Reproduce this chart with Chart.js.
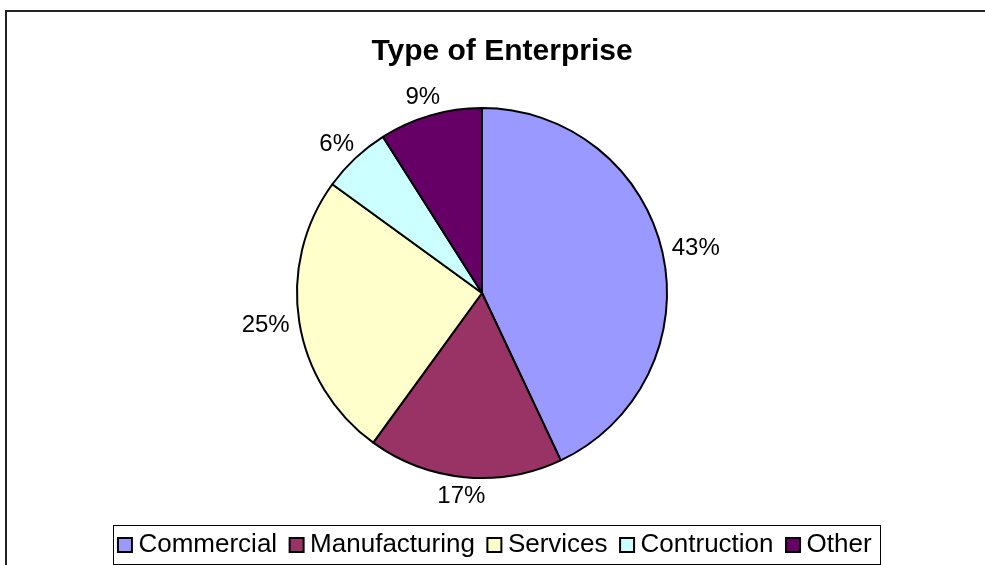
<!DOCTYPE html>
<html>
<head>
<meta charset="utf-8">
<script src="https://cdn.jsdelivr.net/npm/chart.js@4.4.1/dist/chart.umd.min.js"></script>
<style>
  html, body { margin: 0; padding: 0; background: #fff; }
</style>
</head>
<body>
<canvas id="enterpriseChart" width="985" height="565"></canvas>
<script>
const chartTitle = "Type of Enterprise";
const categories = ["Commercial", "Manufacturing", "Services", "Contruction", "Other"];
const shares = [43, 17, 25, 6, 9];
const sliceColors = ["#9999FF", "#993366", "#FFFFCC", "#CCFFFF", "#660066"];

const FONT = "'Liberation Sans', Arial, sans-serif";

// thin frame around the whole chart (top and left edges are visible)
const outerFrame = {
  id: "outerFrame",
  beforeDraw(chart) {
    const ctx = chart.ctx;
    ctx.save();
    ctx.strokeStyle = "#222";
    ctx.lineWidth = 2;
    ctx.strokeRect(6, 11, chart.width + 20, chart.height + 20);
    ctx.restore();
  },
};

// title and legend sit a bit right of the pie centre
const shiftBoxes = {
  id: "shiftBoxes",
  afterLayout(chart) {
    chart.titleBlock.left += 20;
    chart.titleBlock.right += 20;
    chart.legend.left += 16;
    chart.legend.right += 16;
    chart.legend.top += 3;
    chart.legend.bottom += 3;
  },
};

// box drawn around the legend row
const legendFrame = {
  id: "legendFrame",
  afterDraw(chart) {
    const lg = chart.legend;
    const pad = lg.options.labels.padding;
    const lw = lg.lineWidths[0];
    const start = (lg.left + pad + lg.right - lw) / 2;
    const x0 = Math.round(start - 11) + 0.5;
    const x1 = Math.round(start + lw - pad + 8) + 0.5;
    const ctx = chart.ctx;
    ctx.save();
    ctx.strokeStyle = "#000";
    ctx.lineWidth = 1;
    ctx.strokeRect(x0, Math.round(lg.top + 12) + 0.5, x1 - x0, 39);
    ctx.restore();
  },
};

// percentage labels just outside every slice
const percentLabels = {
  id: "percentLabels",
  afterDatasetsDraw(chart) {
    const ctx = chart.ctx;
    const meta = chart.getDatasetMeta(0);
    const total = shares.reduce((a, b) => a + b, 0);
    ctx.save();
    ctx.font = "24px " + FONT;
    ctx.fillStyle = "#000";
    ctx.textAlign = "center";
    ctx.textBaseline = "middle";
    meta.data.forEach((arc, i) => {
      const p = arc.getProps(["x", "y", "startAngle", "endAngle", "outerRadius"], true);
      const mid = (p.startAngle + p.endAngle) / 2;
      const txt = Math.round((shares[i] / total) * 100) + "%";
      const halfW = ctx.measureText(txt).width / 2;
      const halfH = 9;
      const d = p.outerRadius + 10;
      const cx = p.x + Math.cos(mid) * (d + halfW);
      const cy = p.y + Math.sin(mid) * (d + halfH);
      ctx.fillText(txt, cx, cy);
    });
    ctx.restore();
  },
};

new Chart(document.getElementById("enterpriseChart"), {
  type: "pie",
  data: {
    labels: categories,
    datasets: [
      {
        data: shares,
        backgroundColor: sliceColors,
        borderColor: "#000",
        borderWidth: 2,
        radius: 185,
      },
    ],
  },
  options: {
    responsive: false,
    animation: false,
    layout: { padding: { top: 0, left: 0, right: 21, bottom: 0 } },
    plugins: {
      title: {
        display: true,
        text: chartTitle,
        color: "#000",
        font: { family: FONT, size: 30, weight: "bold", lineHeight: 1 },
        padding: { top: 37, bottom: 9 },
      },
      legend: {
        position: "bottom",
        labels: {
          color: "#000",
          font: { family: FONT, size: 26 },
          usePointStyle: true,
          pointStyle: "rect",
          boxWidth: 1,
          boxHeight: 14,
          padding: 19,
        },
      },
      tooltip: { enabled: false },
    },
  },
  plugins: [outerFrame, shiftBoxes, legendFrame, percentLabels],
});
</script>
</body>
</html>
